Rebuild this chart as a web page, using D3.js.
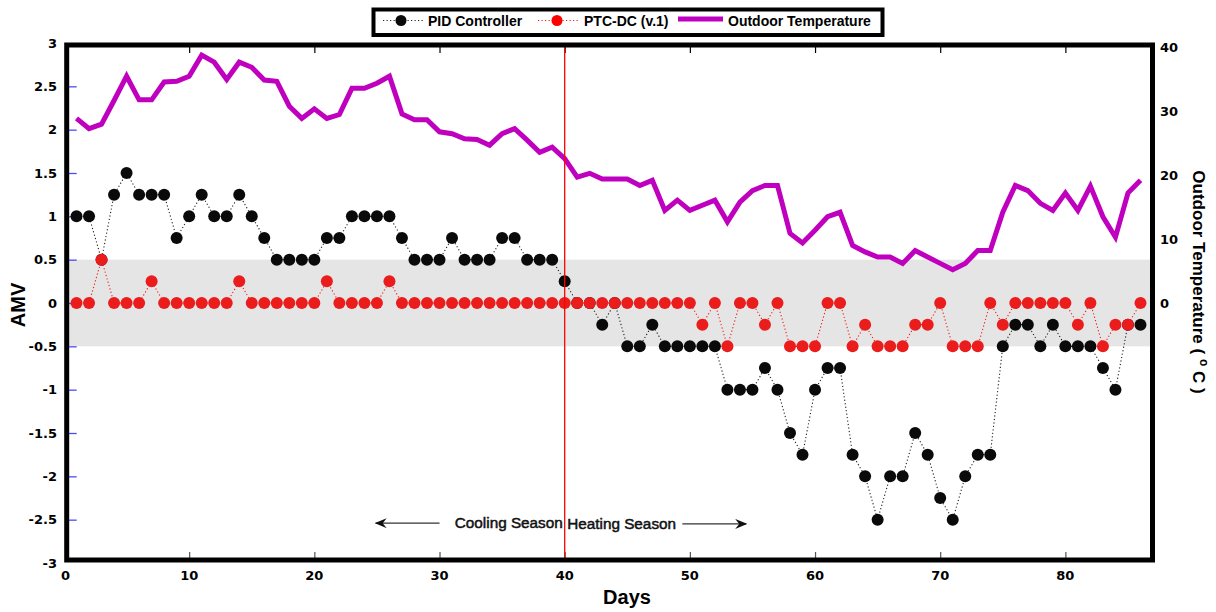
<!DOCTYPE html>
<html>
<head>
<meta charset="utf-8">
<script src="https://cdn.jsdelivr.net/npm/d3@7"></script>
<style>
  html, body { margin: 0; padding: 0; background: #fff; }
  svg { display: block; }
</style>
</head>
<body>
<svg id="chart" width="1216" height="612"></svg>
<script>
// ---------------- DATA ----------------
const days = [1,2,3,4,5,6,7,8,9,10,11,12,13,14,15,16,17,18,19,20,21,22,23,24,25,26,27,28,29,30,
  31,32,33,34,35,36,37,38,39,40,41,42,43,44,45,46,47,48,49,50,51,52,53,54,55,56,57,58,59,60,
  61,62,63,64,65,66,67,68,69,70,71,72,73,74,75,76,77,78,79,80,81,82,83,84,85,86];

const pidAMV = [1,1,0.5,1.25,1.5,1.25,1.25,1.25,0.75,1,
  1.25,1,1,1.25,1,0.75,0.5,0.5,0.5,0.5,
  0.75,0.75,1,1,1,1,0.75,0.5,0.5,0.5,
  0.75,0.5,0.5,0.5,0.75,0.75,0.5,0.5,0.5,0.25,
  0,0,-0.25,0,-0.5,-0.5,-0.25,-0.5,-0.5,-0.5,
  -0.5,-0.5,-1,-1,-1,-0.75,-1,-1.5,-1.75,-1,
  -0.75,-0.75,-1.75,-2,-2.5,-2,-2,-1.5,-1.75,-2.25,
  -2.5,-2,-1.75,-1.75,-0.5,-0.25,-0.25,-0.5,-0.25,-0.5,
  -0.5,-0.5,-0.75,-1,-0.25,-0.25];

const ptcAMV = [0,0,0.5,0,0,0,0.25,0,0,0,
  0,0,0,0.25,0,0,0,0,0,0,
  0.25,0,0,0,0,0.25,0,0,0,0,
  0,0,0,0,0,0,0,0,0,0,
  0,0,0,0,0,0,0,0,0,0,
  -0.25,0,-0.5,0,0,-0.25,0,-0.5,-0.5,-0.5,
  0,0,-0.5,-0.25,-0.5,-0.5,-0.5,-0.25,-0.25,0,
  -0.5,-0.5,-0.5,0,-0.25,0,0,0,0,0,
  -0.25,0,-0.5,-0.25,-0.25,0];

const outdoorTemp = [28.9,27.3,28.0,31.7,35.5,31.8,31.8,34.6,34.7,35.5,
  38.8,37.7,35.0,37.7,36.9,34.9,34.7,30.8,28.9,30.4,
  28.9,29.5,33.6,33.6,34.4,35.5,29.6,28.7,28.7,26.8,
  26.5,25.7,25.6,24.7,26.5,27.3,25.5,23.6,24.4,22.6,
  19.7,20.3,19.4,19.4,19.4,18.4,19.2,14.5,16.1,14.5,
  15.3,16.1,12.7,15.8,17.6,18.4,18.4,10.9,9.4,11.4,
  13.5,14.2,9.0,8.0,7.2,7.2,6.2,8.2,7.2,6.2,
  5.2,6.2,8.2,8.2,14.2,18.4,17.6,15.6,14.5,17.2,
  14.5,18.3,13.5,10.3,17.2,19.2];

const xTicks = [0,10,20,30,40,50,60,70,80];
const amvTicks = [-3,-2.5,-2,-1.5,-1,-0.5,0,0.5,1,1.5,2,2.5,3];
const tempTicks = [0,10,20,30,40];
const seriesNames = ["PID Controller", "PTC-DC (v.1)", "Outdoor Temperature"];
const seasonLabels = ["Cooling Season", "Heating Season"];
const comfortBand = [-0.5, 0.5];
const seasonSplitDay = 40;

// ---------------- STYLE ----------------
const C_RED = "#ea1c1c", C_MAG = "#bf00bf", C_BAND = "#e5e5e5";
const tickFont = "'DejaVu Sans', sans-serif";
const labFont = "'Liberation Sans', Arial, sans-serif";

const svg = d3.select("#chart");

const x = d3.scaleLinear().domain([0, 87]).range([64, 1153]);
const y = d3.scaleLinear().domain([-3, 3]).range([563, 43]);
const yT = d3.scaleLinear().domain([-40.7, 40.7]).range([563, 43]);

const frame = {x0: 66.7, x1: 1152.5, y0: 45, y1: 560};

// comfort band
svg.append("rect")
  .attr("x", frame.x0).attr("width", frame.x1 - frame.x0)
  .attr("y", y(comfortBand[1])).attr("height", y(comfortBand[0]) - y(comfortBand[1]))
  .attr("fill", C_BAND);

// left axis ticks (blue, inward)
const gl = svg.append("g").attr("transform", `translate(${frame.x0 + 2},0)`)
  .call(d3.axisRight(y).tickValues(amvTicks).tickSize(8).tickFormat(""));
gl.select(".domain").remove();
gl.selectAll(".tick line").attr("stroke", "#4b4bff").attr("stroke-width", 1.3);
gl.selectAll(".tick").filter(d => d === 3 || d === -3).remove();

// left tick labels (hyphen minus as in the original)
svg.append("g").selectAll("text").data(amvTicks).join("text")
  .attr("x", 57).attr("y", d => y(d)).attr("dy", "0.36em")
  .attr("text-anchor", "end")
  .attr("font-family", tickFont).attr("font-weight", "bold").attr("font-size", 13)
  .attr("fill", "#000").text(d => String(d));

// top ticks (inward)
const gt = svg.append("g").attr("transform", `translate(0,${frame.y0 + 2})`)
  .call(d3.axisBottom(x).tickValues(xTicks.filter(d => d > 0)).tickSize(6).tickFormat(""));
gt.select(".domain").remove();
gt.selectAll(".tick line").attr("stroke", "#000").attr("stroke-width", 1.2);

// bottom ticks (inward)
const gb = svg.append("g").attr("transform", `translate(0,${frame.y1 - 2})`)
  .call(d3.axisTop(x).tickValues(xTicks.filter(d => d > 0)).tickSize(6).tickFormat(""));
gb.select(".domain").remove();
gb.selectAll(".tick line").attr("stroke", "#555").attr("stroke-width", 1.2);

// bottom labels
svg.append("g").selectAll("text").data(xTicks).join("text")
  .attr("x", d => x(d) + (d === 0 ? 1.5 : 0)).attr("y", 580)
  .attr("text-anchor", "middle")
  .attr("font-family", tickFont).attr("font-weight", "bold").attr("font-size", 13)
  .attr("fill", "#000").text(d => String(d));

// right labels
svg.append("g").selectAll("text").data(tempTicks).join("text")
  .attr("x", 1160).attr("y", d => yT(d)).attr("dy", "0.36em")
  .attr("text-anchor", "start")
  .attr("font-family", tickFont).attr("font-weight", "bold").attr("font-size", 13)
  .attr("fill", "#000").text(d => String(d));

// series lines
const pidData = days.map((d, i) => [d, pidAMV[i]]);
const ptcData = days.map((d, i) => [d, ptcAMV[i]]);
const tempData = days.map((d, i) => [d, outdoorTemp[i]]);

const lineA = d3.line().x(d => x(d[0])).y(d => y(d[1]));
const lineT = d3.line().x(d => x(d[0])).y(d => yT(d[1]));

svg.append("path").datum(pidData).attr("d", lineA)
  .attr("fill", "none").attr("stroke", "#222").attr("stroke-width", 1.1).attr("stroke-dasharray", "1.2,2.3");
svg.append("g").selectAll("circle").data(pidData).join("circle")
  .attr("cx", d => x(d[0])).attr("cy", d => y(d[1])).attr("r", 6).attr("fill", "#0a0a0a");

svg.append("path").datum(ptcData).attr("d", lineA)
  .attr("fill", "none").attr("stroke", C_RED).attr("stroke-width", 1.1).attr("stroke-dasharray", "1.2,2.3");
svg.append("g").selectAll("circle").data(ptcData).join("circle")
  .attr("cx", d => x(d[0])).attr("cy", d => y(d[1])).attr("r", 6).attr("fill", C_RED);

svg.append("path").datum(tempData).attr("d", lineT)
  .attr("fill", "none").attr("stroke", C_MAG).attr("stroke-width", 5).attr("stroke-linejoin", "miter");

// season split line
svg.append("line")
  .attr("x1", x(seasonSplitDay)).attr("x2", x(seasonSplitDay))
  .attr("y1", frame.y0).attr("y2", frame.y1)
  .attr("stroke", "#ff0000").attr("stroke-width", 1.3);

// frame
svg.append("rect")
  .attr("x", frame.x0).attr("y", frame.y0)
  .attr("width", frame.x1 - frame.x0).attr("height", frame.y1 - frame.y0)
  .attr("fill", "none").attr("stroke", "#000").attr("stroke-width", 5);

// season annotation
const defs = svg.append("defs");
defs.append("marker").attr("id", "arrow").attr("viewBox", "0 0 12 10")
  .attr("refX", 11).attr("refY", 5).attr("markerWidth", 12).attr("markerHeight", 10)
  .attr("markerUnits", "userSpaceOnUse").attr("orient", "auto")
  .append("path").attr("d", "M0,0 L12,5 L0,10 L4,5 Z").attr("fill", "#111");

const annY = y(-2.54);
svg.append("line").attr("x1", x(30.0)).attr("x2", x(24.9)).attr("y1", annY).attr("y2", annY)
  .attr("stroke", "#333").attr("stroke-width", 1.3).attr("marker-end", "url(#arrow)");
svg.append("line").attr("x1", x(49.4)).attr("x2", x(54.5)).attr("y1", annY + 0.8).attr("y2", annY + 0.8)
  .attr("stroke", "#333").attr("stroke-width", 1.3).attr("marker-end", "url(#arrow)");
svg.append("text").attr("x", x(39.85)).attr("y", annY + 5)
  .attr("text-anchor", "end").attr("font-family", labFont).attr("font-size", 15.3)
  .attr("fill", "#111").attr("stroke", "#111").attr("stroke-width", 0.5).text(seasonLabels[0]);
svg.append("text").attr("x", x(40.2)).attr("y", annY + 6)
  .attr("text-anchor", "start").attr("font-family", labFont).attr("font-size", 15.3)
  .attr("fill", "#111").attr("stroke", "#111").attr("stroke-width", 0.5).text(seasonLabels[1]);

// axis titles
svg.append("text").attr("x", 627).attr("y", 604).attr("text-anchor", "middle")
  .attr("font-family", labFont).attr("font-weight", "bold").attr("font-size", 20).text("Days");
svg.append("text").attr("transform", "translate(25,305) rotate(-90)").attr("text-anchor", "middle")
  .attr("font-family", labFont).attr("font-weight", "bold").attr("font-size", 20).text("AMV");
const rt = svg.append("text").attr("transform", "translate(1193,282) rotate(90)").attr("text-anchor", "middle")
  .attr("font-family", labFont).attr("font-weight", "bold").attr("font-size", 17);
rt.append("tspan").text("Outdoor Temperature ( ");
rt.append("tspan").attr("font-size", 12).attr("dy", -7).text("o");
rt.append("tspan").attr("dy", 7).text(" C )");

// legend
const lg = svg.append("g");
lg.append("rect").attr("x", 373.5).attr("y", 9.5).attr("width", 509).attr("height", 25.5)
  .attr("fill", "#fff").attr("stroke", "#000").attr("stroke-width", 4);
const ly = 20.5;
lg.append("line").attr("x1", 383).attr("x2", 424).attr("y1", ly).attr("y2", ly)
  .attr("stroke", "#222").attr("stroke-width", 1.1).attr("stroke-dasharray", "1.2,2.3");
lg.append("circle").attr("cx", 401).attr("cy", ly).attr("r", 5.5).attr("fill", "#0a0a0a");
lg.append("line").attr("x1", 538).attr("x2", 580).attr("y1", ly).attr("y2", ly)
  .attr("stroke", C_RED).attr("stroke-width", 1.1).attr("stroke-dasharray", "1.2,2.3");
lg.append("circle").attr("cx", 557).attr("cy", ly).attr("r", 5.5).attr("fill", "#ff0000");
lg.append("line").attr("x1", 678).attr("x2", 723).attr("y1", 19).attr("y2", 19)
  .attr("stroke", C_MAG).attr("stroke-width", 5);
const legX = [428, 584, 728];
lg.selectAll("text.leg").data(seriesNames).join("text").attr("class", "leg")
  .attr("x", (d, i) => legX[i]).attr("y", 25.5)
  .attr("font-family", labFont).attr("font-weight", "bold").attr("font-size", 14)
  .attr("fill", "#000").text(d => d);
</script>
</body>
</html>
